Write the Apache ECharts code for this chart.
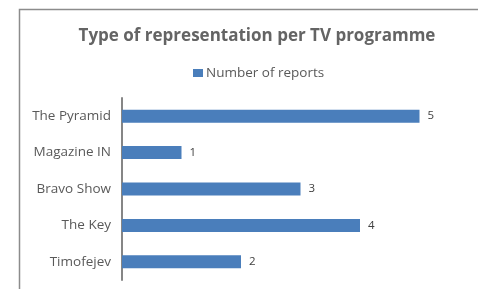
<!DOCTYPE html>
<html><head><meta charset="utf-8">
<script src="https://cdn.jsdelivr.net/npm/echarts@6/dist/echarts.min.js"></script>
<style>html,body{margin:0;padding:0;background:#fff}#c{width:478px;height:289px}</style>
</head><body><div id="c"></div>
<script>
const categories = ["Timofejev", "The Key", "Bravo Show", "Magazine IN", "The Pyramid"];
const values = [2, 4, 3, 1, 5];
const seriesName = "Number of reports";
const titleText = "Type of representation per TV programme";

const chart = echarts.init(document.getElementById('c'), null, {renderer: 'canvas'});
const font = '"Open Sans", sans-serif';
chart.setOption({
  animation: false,
  backgroundColor: '#fff',
  graphic: [{
    type: 'rect', shape: {x: 19.5, y: 9.5, width: 480, height: 300},
    style: {fill: 'none', stroke: '#8c8c8c', lineWidth: 1.5}, silent: true, z: -1
  }],
  title: {
    text: titleText, left: 252, top: 23, textAlign: 'center',
    textStyle: {fontFamily: font, fontWeight: 'bold', fontSize: 17, color: '#646464'}
  },
  legend: {
    data: [seriesName], left: 188, top: 61, itemWidth: 10, itemHeight: 8, itemGap: 4,
    icon: 'rect',
    textStyle: {fontFamily: font, fontSize: 13.5, color: '#595959', padding: [0,0,0,-2]}
  },
  grid: {left: 122, top: 98, width: 297.5, height: 182, containLabel: false},
  xAxis: {type: 'value', min: 0, max: 5, show: false},
  yAxis: {
    type: 'category', data: categories,
    axisLine: {lineStyle: {color: '#868686', width: 2}},
    axisTick: {show: false},
    axisLabel: {fontFamily: font, fontSize: 13.5, color: '#595959', margin: 11}
  },
  series: [{
    name: seriesName, type: 'bar', data: values, barWidth: 13,
    itemStyle: {color: '#4a7ebb'},
    label: {show: true, position: 'right', distance: 8, fontFamily: font, fontSize: 11.5, color: '#404040'}
  }]
});
</script></body></html>
